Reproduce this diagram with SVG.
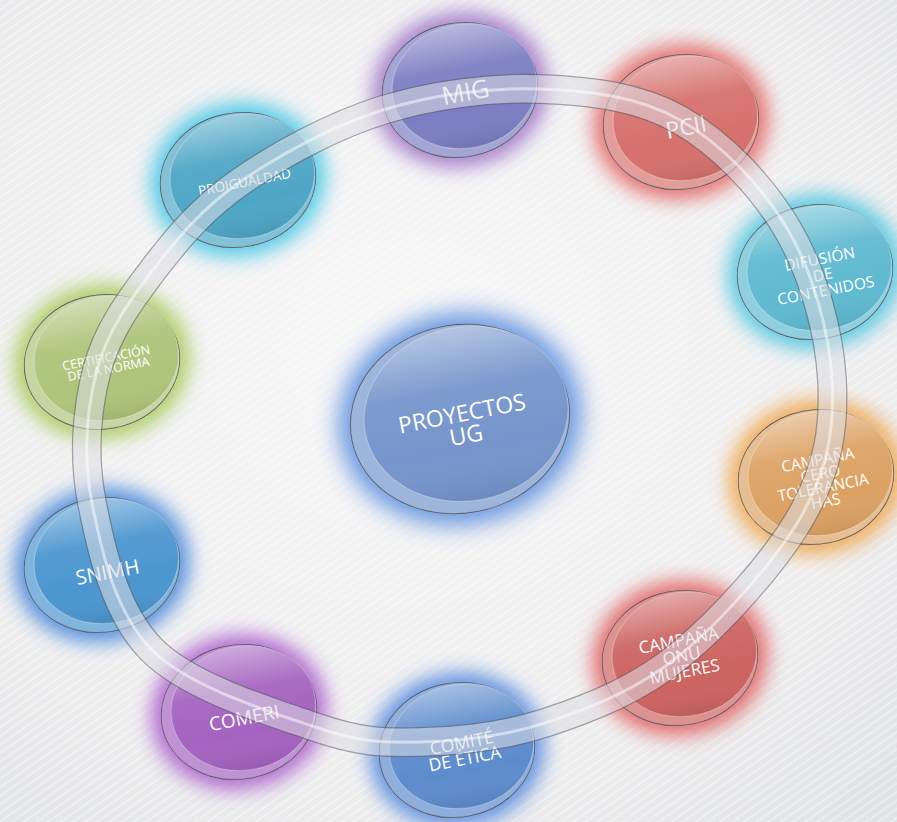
<svg xmlns="http://www.w3.org/2000/svg" width="897" height="822" viewBox="0 0 897 822">
<defs>
  <radialGradient id="bg" cx="0.45" cy="0.42" r="0.75">
    <stop offset="0" stop-color="#f7f7f8"/>
    <stop offset="0.7" stop-color="#eeeeef"/>
    <stop offset="1" stop-color="#e2e3e5"/>
  </radialGradient>
  <pattern id="stripes" width="7" height="7" patternUnits="userSpaceOnUse" patternTransform="rotate(-35)">
    <rect width="7" height="2" fill="#ffffff" opacity="0.35"/>
  </pattern>
  <linearGradient id="shine" x1="0" y1="0" x2="0" y2="1">
    <stop offset="0" stop-color="#ffffff" stop-opacity="0.45"/>
    <stop offset="0.35" stop-color="#ffffff" stop-opacity="0.06"/>
    <stop offset="0.7" stop-color="#ffffff" stop-opacity="0"/>
    <stop offset="1" stop-color="#000000" stop-opacity="0.08"/>
  </linearGradient>
  <filter id="blur" x="-50%" y="-50%" width="200%" height="200%">
    <feGaussianBlur stdDeviation="10"/>
  </filter>
  <filter id="blurBig" x="-50%" y="-50%" width="200%" height="200%">
    <feGaussianBlur stdDeviation="12"/>
  </filter>
  <ellipse id="glowS" rx="88" ry="77"/>
  <ellipse id="rimS" rx="78" ry="67"/>
  <ellipse id="faceS" cx="5" cy="-3" rx="72.5" ry="62"/>
  <ellipse id="glowL" rx="122" ry="106"/>
  <ellipse id="rimL" rx="110" ry="94"/>
  <ellipse id="faceL" cx="7" cy="-4" rx="102.5" ry="87"/>
  <path id="ring" d="M540,89 C589.5,90.7 638.7,96.5 680,120 C721.3,143.5 762.7,186.7 788,230 C813.3,273.3 829.5,332.8 832,380 C834.5,427.2 828.3,467.2 803,513 C777.7,558.8 722.5,620.2 680,655 C637.5,689.8 591.3,707.5 548,722 C504.7,736.5 458.8,741.2 420,742 C381.2,742.8 359.7,742.3 315,727 C270.3,711.7 189.2,687.3 152,650 C114.8,612.7 101.2,549.7 92,503 C82.8,456.3 86.8,408.8 97,370 C107.2,331.2 129.2,301.3 153,270 C176.8,238.7 201.7,208.7 240,182 C278.3,155.3 333,125.5 383,110 C433,94.5 490.5,87.3 540,89 Z"/>
</defs>
<style>
  .glow { fill: var(--g); opacity: 0.85; filter: url(#blur); }
  .glowL { fill: var(--g); opacity: 0.85; filter: url(#blurBig); }
  .rim { fill: var(--c); stroke: #4d4d55; stroke-width: 1; }
  .bevel { fill: #ffffff; opacity: 0.3; }
  .face { fill: var(--c); stroke: #ffffff; stroke-opacity: 0.25; stroke-width: 1.2; }
  .shine { fill: url(#shine); }
  .lbl { fill: #ffffff; font-family: "Open Sans", "Liberation Sans", sans-serif; text-anchor: middle; }
  .tube-edge { fill: none; stroke: #5e5e68; stroke-width: 30; }
  .tube-body { fill: none; stroke: #dedee4; stroke-width: 27.5; }
  .tube-hl { fill: none; stroke: #ffffff; stroke-width: 3; opacity: 0.5; }
</style>

<rect width="897" height="822" fill="url(#bg)"/>
<rect width="897" height="822" fill="url(#stripes)"/>

<g id="node-proyectos" transform="translate(460,419) rotate(-11)" style="--c:#7595cc;--g:#4f86dc">
  <use href="#glowL" class="glowL"/>
  <use href="#rimL" class="rim"/>
  <use href="#rimL" class="bevel"/>
  <use href="#faceL" class="face"/>
  <use href="#faceL" class="shine"/>
  <text class="lbl" font-size="23"><tspan x="3" y="3">PROYECTOS</tspan><tspan x="3" y="25">UG</tspan></text>
</g>

<g id="node-mig" transform="translate(460,90) rotate(-11)" style="--c:#7b7ec2;--g:#9a6cc4">
  <use href="#glowS" class="glow"/>
  <use href="#rimS" class="rim"/>
  <use href="#rimS" class="bevel"/>
  <use href="#faceS" class="face"/>
  <use href="#faceS" class="shine"/>
  <text class="lbl" font-size="25" x="5" y="12">MIG</text>
</g>

<g id="node-pcii" transform="translate(681,122) rotate(-11)" style="--c:#d6716d;--g:#e25c58">
  <use href="#glowS" class="glow"/>
  <use href="#rimS" class="rim"/>
  <use href="#rimS" class="bevel"/>
  <use href="#faceS" class="face"/>
  <use href="#faceS" class="shine"/>
  <text class="lbl" font-size="23" x="4" y="14">PCII</text>
</g>

<g id="node-difusion" transform="translate(815,272) rotate(-11)" style="--c:#5fbad1;--g:#42c2de">
  <use href="#glowS" class="glow"/>
  <use href="#rimS" class="rim"/>
  <use href="#rimS" class="bevel"/>
  <use href="#faceS" class="face"/>
  <use href="#faceS" class="shine"/>
  <text class="lbl" font-size="15.5"><tspan x="7" y="-6.5">DIFUSIÓN</tspan><tspan x="7" y="9.5">DE</tspan><tspan x="7" y="25.5">CONTENIDOS</tspan></text>
</g>

<g id="node-cero" transform="translate(816,477) rotate(-11)" style="--c:#dca264;--g:#f0a040">
  <use href="#glowS" class="glow"/>
  <use href="#rimS" class="rim"/>
  <use href="#rimS" class="bevel"/>
  <use href="#faceS" class="face"/>
  <use href="#faceS" class="shine"/>
  <text class="lbl" font-size="15.5"><tspan x="5" y="-11">CAMPAÑA</tspan><tspan x="5" y="3">CERO</tspan><tspan x="5" y="17">TOLERANCIA</tspan><tspan x="5" y="31">HAS</tspan></text>
</g>

<g id="node-onu" transform="translate(680,658) rotate(-11)" style="--c:#cc6461;--g:#e05454">
  <use href="#glowS" class="glow"/>
  <use href="#rimS" class="rim"/>
  <use href="#rimS" class="bevel"/>
  <use href="#faceS" class="face"/>
  <use href="#faceS" class="shine"/>
  <text class="lbl" font-size="17"><tspan x="2" y="-11.5">CAMPAÑA</tspan><tspan x="2" y="4">ONU</tspan><tspan x="2" y="20">MUJERES</tspan></text>
</g>

<g id="node-comite" transform="translate(457,750) rotate(-11)" style="--c:#5d8ccd;--g:#4a82dc">
  <use href="#glowS" class="glow"/>
  <use href="#rimS" class="rim"/>
  <use href="#rimS" class="bevel"/>
  <use href="#faceS" class="face"/>
  <use href="#faceS" class="shine"/>
  <text class="lbl" font-size="17.5"><tspan x="6" y="0">COMITÉ</tspan><tspan x="6" y="16">DE ÉTICA</tspan></text>
</g>

<g id="node-comeri" transform="translate(239,712) rotate(-11)" style="--c:#a463c0;--g:#a452c8">
  <use href="#glowS" class="glow"/>
  <use href="#rimS" class="rim"/>
  <use href="#rimS" class="bevel"/>
  <use href="#faceS" class="face"/>
  <use href="#faceS" class="shine"/>
  <text class="lbl" font-size="19" x="4" y="13.5">COMERI</text>
</g>

<g id="node-snimh" transform="translate(102,565) rotate(-11)" style="--c:#4b96d0;--g:#3a80d8">
  <use href="#glowS" class="glow"/>
  <use href="#rimS" class="rim"/>
  <use href="#rimS" class="bevel"/>
  <use href="#faceS" class="face"/>
  <use href="#faceS" class="shine"/>
  <text class="lbl" font-size="20" x="4" y="15">SNIMH</text>
</g>

<g id="node-certificacion" transform="translate(102,362) rotate(-11)" style="--c:#adc57a;--g:#a0c850">
  <use href="#glowS" class="glow"/>
  <use href="#rimS" class="rim"/>
  <use href="#rimS" class="bevel"/>
  <use href="#faceS" class="face"/>
  <use href="#faceS" class="shine"/>
  <text class="lbl" font-size="12.5"><tspan x="5" y="1">CERTIFICACIÓN</tspan><tspan x="5" y="12.5">DE LA NORMA</tspan></text>
</g>

<g id="node-proigualdad" transform="translate(238,180) rotate(-11)" style="--c:#4ea6c6;--g:#3cc4e4">
  <use href="#glowS" class="glow"/>
  <use href="#rimS" class="rim"/>
  <use href="#rimS" class="bevel"/>
  <use href="#faceS" class="face"/>
  <use href="#faceS" class="shine"/>
  <text class="lbl" font-size="13.5" x="6" y="8">PROIGUALDAD</text>
</g>

<g id="connectors">
  <g opacity="0.55">
    <use href="#ring" class="tube-edge"/>
    <use href="#ring" class="tube-body"/>
  </g>
  <use href="#ring" class="tube-hl"/>
</g>
</svg>
